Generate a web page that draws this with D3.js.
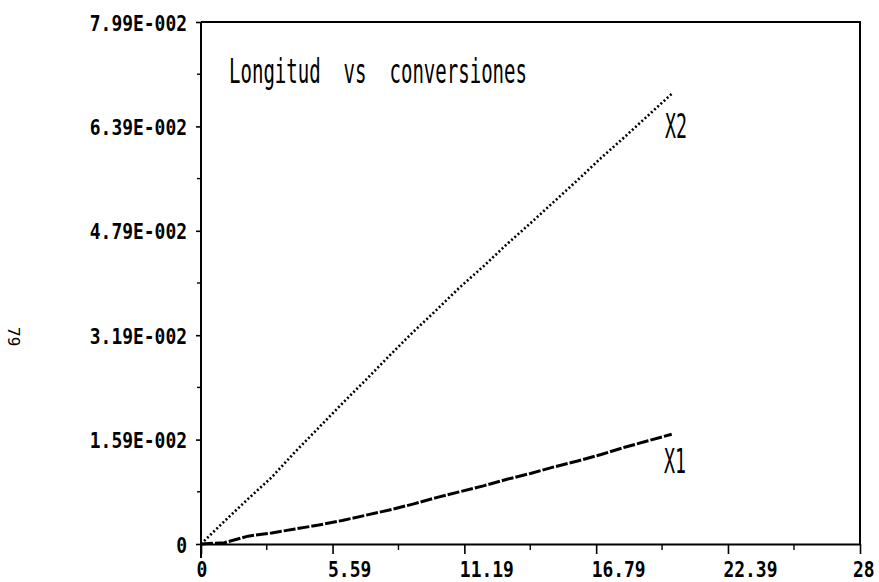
<html>
    <script src="https://d3js.org/d3.v7.min.js"></script>
    <style>
    body{
        margin:0;
        background:white;
    }
    .tickText{
        font-family:"DejaVu Sans Mono", monospace;
        font-weight:bold;
        font-size:22px;
        fill:black;
    }
    .plotText{
        font-family:"DejaVu Sans Mono", monospace;
        font-size:33px;
        fill:black;
        white-space:pre;
    }
    .pageNum{
        font-family:"DejaVu Sans Mono", monospace;
        font-size:16px;
        fill:black;
    }
    </style>
    <body>
    <script>

        let width = 879;
        let height = 582;
        let margin = {top: 22, right: 19, bottom: 38, left: 201};

        // Values
        let longitud = [0, 1, 2, 3, 4, 5, 6, 7, 8, 9, 10, 11, 12, 13, 14, 15, 16, 17, 18, 19, 20];
        let x1Values = [0, 0.0002, 0.0012, 0.0017, 0.0023, 0.0029, 0.0036, 0.0044, 0.0052, 0.0061, 0.0071,
                        0.0080, 0.0089, 0.0099, 0.0108, 0.0118, 0.0127, 0.0137, 0.0148, 0.0158, 0.0168];
        let x2Values = [0, 0.0035, 0.0069, 0.0102, 0.0141, 0.0178, 0.0215, 0.0251, 0.0288, 0.0324, 0.0358,
                        0.0393, 0.0425, 0.0459, 0.0491, 0.0524, 0.0557, 0.0591, 0.0623, 0.0656, 0.0689];

        let xTicks = [0, 5.59, 11.19, 16.79, 22.39, 28];
        let xTickLabels = ["0", "5.59", "11.19", "16.79", "22.39", "28"];
        let yTicks = [0, 0.01598, 0.03196, 0.04794, 0.06392, 0.0799];
        let yTickLabels = ["0", "1.59E-002", "3.19E-002", "4.79E-002", "6.39E-002", "7.99E-002"];

        let charWidth = 10.8; // the plotter font is narrow, squeeze glyphs to this width

        let canvas = d3.select("body")
            .append("svg")
            .attr("width", width)
            .attr("height", height);

        let xScale = d3.scaleLinear()
            .domain([0, 28])
            .range([margin.left, width - margin.right]);
        let yScale = d3.scaleLinear()
            .domain([0, 0.0799])
            .range([height - margin.bottom, margin.top]);

        // minor ticks sit halfway between the labelled ones
        let xMinor = d3.pairs(xTicks).map(p => (p[0] + p[1]) / 2);
        let yMinor = d3.pairs(yTicks).map(p => (p[0] + p[1]) / 2);

        // frame (top + right)
        canvas.append("path")
            .attr("d", `M${xScale(0)},${yScale(0.0799)} H${xScale(28)} V${yScale(0)}`)
            .attr("fill", "none")
            .attr("stroke", "black")
            .attr("stroke-width", 2);

        // x axis
        let xAxis = d3.axisBottom(xScale)
            .tickValues(xTicks)
            .tickFormat((d, i) => xTickLabels[i])
            .tickSize(10)
            .tickSizeOuter(0);
        let xAxisLayer = canvas.append("g")
            .attr("transform", `translate(0, ${yScale(0)})`)
            .call(xAxis);
        xAxisLayer.select(".domain").attr("stroke-width", 2.2);
        xAxisLayer.selectAll(".tick line").attr("stroke-width", 1.6);
        let lastTick = xTicks[xTicks.length - 1];
        xAxisLayer.selectAll(".tick text")
            .attr("class", "tickText")
            // labels start just left of their tick; the last one is held inside the page edge
            .attr("text-anchor", d => d === lastTick ? "end" : "start")
            .attr("x", d => d === lastTick ? 14 : -5)
            .attr("y", 33)
            .attr("dy", null)
            .attr("textLength", d => xTickLabels[xTicks.indexOf(d)].length * charWidth)
            .attr("lengthAdjust", "spacingAndGlyphs");
        xAxisLayer.selectAll(".minor")
            .data(xMinor)
            .enter().append("line")
            .attr("x1", d => xScale(d))
            .attr("x2", d => xScale(d))
            .attr("y1", 0)
            .attr("y2", 6)
            .attr("stroke", "black")
            .attr("stroke-width", 1.4);

        // y axis
        let yAxis = d3.axisLeft(yScale)
            .tickValues(yTicks)
            .tickFormat((d, i) => yTickLabels[i])
            .tickSize(5)
            .tickSizeOuter(0);
        let yAxisLayer = canvas.append("g")
            .attr("transform", `translate(${xScale(0)}, 0)`)
            .call(yAxis);
        yAxisLayer.select(".domain")
            .attr("d", `M0,${yScale(0.0799)} V${yScale(0) + 14}`)
            .attr("stroke-width", 2);
        yAxisLayer.selectAll(".tick line").attr("stroke-width", 1.6);
        yAxisLayer.selectAll(".tick text")
            .attr("class", "tickText")
            .attr("text-anchor", "end")
            .attr("x", -14)
            .attr("dy", null)
            .attr("y", 8)
            .attr("textLength", d => yTickLabels[yTicks.indexOf(d)].length * charWidth)
            .attr("lengthAdjust", "spacingAndGlyphs");
        yAxisLayer.selectAll(".minor")
            .data(yMinor)
            .enter().append("line")
            .attr("x1", -4)
            .attr("x2", 0)
            .attr("y1", d => yScale(d))
            .attr("y2", d => yScale(d))
            .attr("stroke", "black")
            .attr("stroke-width", 1.4);

        // series
        let line = d3.line()
            .x(d => xScale(d[0]))
            .y(d => yScale(d[1]));

        canvas.append("path")
            .datum(d3.zip(longitud, x2Values))
            .attr("d", line)
            .attr("fill", "none")
            .attr("stroke", "black")
            .attr("stroke-width", 2.6)
            .attr("stroke-dasharray", "2,2.3");

        canvas.append("path")
            .datum(d3.zip(longitud, x1Values))
            .attr("d", line)
            .attr("fill", "none")
            .attr("stroke", "black")
            .attr("stroke-width", 3)
            .attr("stroke-dasharray", "12,2");

        // texts inside the plot
        let plotTexts = [
            {t: "Longitud  vs  conversiones", x: 229, y: 83, w: 298},
            {t: "X2", x: 665, y: 138, w: 22},
            {t: "X1", x: 664, y: 473, w: 22}
        ];
        canvas.selectAll(".plotText")
            .data(plotTexts)
            .enter().append("text")
            .attr("class", "plotText")
            .attr("x", d => d.x)
            .attr("y", d => d.y)
            .attr("textLength", d => d.w)
            .attr("lengthAdjust", "spacingAndGlyphs")
            .text(d => d.t);

        // page number of the scan, printed sideways
        canvas.append("text")
            .attr("class", "pageNum")
            .attr("transform", "translate(8, 327) rotate(90)")
            .text("79");

    </script>
    </body>
</html>
